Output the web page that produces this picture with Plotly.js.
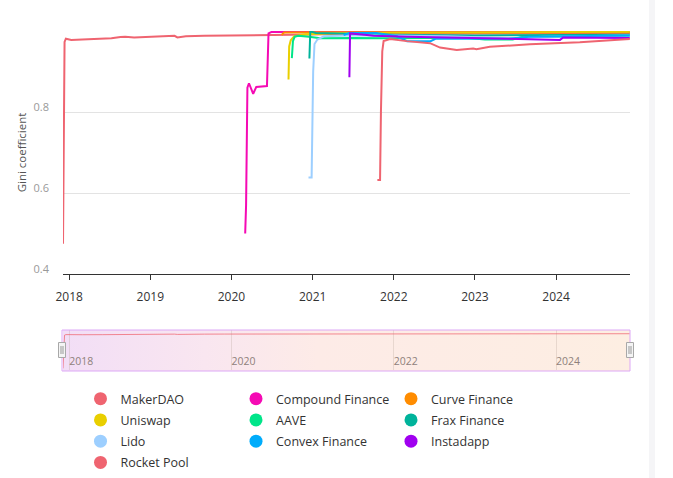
<!DOCTYPE html>
<html>
<head>
<meta charset="utf-8">
<script src="https://cdn.plot.ly/plotly-3.0.1.min.js"></script>
<style>html,body{margin:0;padding:0;background:#fff;}#chart{width:673px;height:478px;}</style>
</head>
<body>
<div id="chart"></div>
<script>
// ---- data ----
const makerDates = ['2017-12-04','2017-12-07','2017-12-11','2017-12-17','2018-01-10','2018-03-01','2018-06-01','2018-07-10','2018-08-20','2018-09-10','2018-10-20','2018-12-01','2019-01-20','2019-03-01','2019-04-20','2019-05-03','2019-06-10','2019-09-01','2019-12-01','2020-03-01','2020-06-01','2020-10-01','2021-03-01','2021-10-01','2022-06-01','2023-03-01','2024-01-01','2024-11-28'];
const makerVals  = [0.475,0.78,0.973,0.981,0.978,0.979,0.980,0.982,0.985,0.986,0.984,0.985,0.985,0.986,0.988,0.984,0.987,0.988,0.989,0.989,0.990,0.991,0.992,0.993,0.993,0.994,0.994,0.994];

const compoundDates = ['2020-03-03','2020-03-07','2020-03-13','2020-03-20','2020-04-08','2020-04-22','2020-06-09','2020-06-16','2020-07-01','2021-06-01','2022-06-01','2023-06-01','2024-11-28'];
const compoundVals  = [0.50,0.57,0.86,0.871,0.845,0.862,0.864,0.994,0.998,0.998,0.997,0.997,0.997];

const curveDates = ['2020-08-14','2020-08-25','2021-03-01','2022-03-01','2023-03-01','2024-03-01','2024-11-28'];
const curveVals  = [0.990,0.996,0.997,0.996,0.996,0.996,0.996];

const uniswapDates = ['2020-09-14','2020-09-17','2020-09-24','2020-10-10','2020-12-01','2021-06-01','2022-03-01','2023-03-01','2024-01-01','2024-11-28'];
const uniswapVals  = [0.88,0.962,0.977,0.987,0.992,0.995,0.996,0.997,0.997,0.998];

const aaveDates = ['2020-09-29','2020-10-04','2020-10-12','2020-10-28','2020-12-15','2021-02-05','2021-07-01','2021-12-01','2022-06-01','2022-12-01','2023-02-15','2023-06-20','2023-08-01','2024-03-01','2024-11-28'];
const aaveVals  = [0.933,0.975,0.986,0.988,0.986,0.982,0.983,0.982,0.983,0.983,0.979,0.979,0.985,0.987,0.988];

const fraxDates = ['2020-12-17','2020-12-21','2021-01-15','2021-06-01','2022-01-01','2023-01-01','2024-01-01','2024-11-28'];
const fraxVals  = [0.932,0.999,0.995,0.993,0.991,0.989,0.990,0.991];

const lidoDates = ['2020-12-13','2020-12-27','2021-01-03','2021-01-09','2021-01-22','2021-02-20','2021-06-01','2022-01-01','2022-09-01','2023-02-01','2023-07-01','2023-11-01','2024-06-01','2024-11-28'];
const lidoVals  = [0.638,0.638,0.90,0.968,0.979,0.987,0.989,0.989,0.987,0.984,0.982,0.986,0.988,0.989];

const convexDates = ['2021-05-20','2021-06-15','2021-10-15','2022-01-15','2022-03-01','2022-06-15','2022-07-10','2023-06-01','2023-09-01','2024-04-01','2024-11-28'];
const convexVals  = [0.990,0.995,0.995,0.987,0.975,0.975,0.981,0.981,0.986,0.988,0.989];

const instaDates = ['2021-06-15','2021-06-18','2021-09-02','2021-10-01','2022-03-02','2023-02-24','2023-10-12','2024-01-19','2024-02-02','2024-11-28'];
const instaVals  = [0.886,0.994,0.990,0.988,0.986,0.982,0.980,0.978,0.984,0.983];

const rocketDates = ['2021-10-19','2021-10-31','2021-11-04','2021-11-10','2021-11-16','2021-12-15','2022-02-28','2022-06-13','2022-07-28','2022-10-11','2022-12-24','2023-01-08','2023-03-09','2023-09-05','2024-04-17','2024-09-12','2024-11-28'];
const rocketVals  = [0.632,0.632,0.80,0.95,0.975,0.980,0.975,0.970,0.959,0.953,0.957,0.955,0.961,0.967,0.972,0.978,0.980];

const seriesNames  = ['MakerDAO','Compound Finance','Curve Finance','Uniswap','AAVE','Frax Finance','Lido','Convex Finance','Instadapp','Rocket Pool'];
const seriesColors = ['#ef6470','#f50ab4','#ff8c00','#e9cf00','#00e589','#00b39b','#9dcfff','#00acfb','#a000f0','#ef6470'];
const seriesDates  = [makerDates,compoundDates,curveDates,uniswapDates,aaveDates,fraxDates,lidoDates,convexDates,instaDates,rocketDates];
const seriesVals   = [makerVals,compoundVals,curveVals,uniswapVals,aaveVals,fraxVals,lidoVals,convexVals,instaVals,rocketVals];
const seriesLegend = ['legend','legend2','legend3','legend','legend2','legend3','legend','legend2','legend3','legend'];

const xRange = ['2017-12-04','2024-11-29'];
const FONT = 'Open Sans, Noto Sans, sans-serif';

// ---- traces ----
const traces = [];
seriesNames.forEach((name, i) => {
  traces.push({
    type: 'scatter', mode: 'lines', name: name,
    x: seriesDates[i], y: seriesVals[i],
    line: {color: seriesColors[i], width: 2},
    legendgroup: name, showlegend: false,
    xaxis: 'x', yaxis: 'y', hoverinfo: 'x+y+name'
  });
});
// legend entries (circle markers)
const legendOrder = ['MakerDAO','Uniswap','Lido','Rocket Pool','Compound Finance','AAVE','Convex Finance','Curve Finance','Frax Finance','Instadapp'];
legendOrder.forEach(name => {
  const i = seriesNames.indexOf(name);
  traces.push({
    type: 'scatter', mode: 'markers', name: name,
    x: [null], y: [null],
    marker: {color: seriesColors[i], size: 13},
    legendgroup: name, legend: seriesLegend[i], showlegend: true,
    xaxis: 'x', yaxis: 'y', hoverinfo: 'skip'
  });
});
// data-zoom preview line (first series)
traces.push({
  type: 'scatter', mode: 'lines', x: makerDates, y: makerVals,
  line: {color: 'rgba(239,100,112,0.75)', width: 1},
  showlegend: false, xaxis: 'x2', yaxis: 'y2', hoverinfo: 'skip'
});

// ---- gradient background for the zoom slider ----
const gradSvg = '<svg xmlns="http://www.w3.org/2000/svg" width="100" height="10" preserveAspectRatio="none">' +
  '<defs><linearGradient id="g" x1="0" y1="0" x2="1" y2="0">' +
  '<stop offset="0" stop-color="#f2def6"/><stop offset="0.25" stop-color="#f9e6f0"/>' +
  '<stop offset="0.45" stop-color="#fdebe7"/><stop offset="1" stop-color="#fdeee2"/>' +
  '</linearGradient></defs><rect width="100" height="10" fill="url(#g)"/></svg>';
const gradSrc = 'data:image/svg+xml;base64,' + btoa(gradSvg);

const H = 339; // plot area height in px (31..370)
const py = p => (370 - p) / H;      // pixel y -> paper y
const px = p => (p - 63) / 567;     // pixel x -> paper x

const legendCommon = {
  orientation: 'v', yanchor: 'top', xanchor: 'left',
  bgcolor: 'rgba(0,0,0,0)', borderwidth: 0, itemwidth: 30,
  font: {family: FONT, size: 12.5, color: '#333'},
  tracegroupgap: 2, itemclick: 'toggle'
};

const layout = {
  width: 673, height: 478,
  margin: {l: 63, r: 43, t: 31, b: 108, pad: 0, autoexpand: false},
  paper_bgcolor: '#ffffff', plot_bgcolor: 'rgba(0,0,0,0)',
  font: {family: FONT, color: '#333'},
  hovermode: 'closest',
  xaxis: {
    domain: [0, 1], anchor: 'y', type: 'date', range: xRange,
    tick0: '2018-01-01', dtick: 'M12', tickformat: '%Y',
    showgrid: false, zeroline: false,
    showline: true, linecolor: '#333', linewidth: 1,
    ticks: 'outside', ticklen: 5, tickcolor: '#333', tickwidth: 1,
    ticklabelstandoff: 7,
    tickfont: {family: FONT, size: 12, color: '#333'}
  },
  yaxis: {
    domain: [py(274), 1], anchor: 'x', range: [0.4, 1.0],
    tickvals: [0.4, 0.6, 0.8, 1.0], ticktext: ['0.4', '0.6', '0.8', ''],
    showgrid: true, gridcolor: '#e3e3e3', gridwidth: 1,
    zeroline: false, showline: false, ticks: '',
    ticklabelstandoff: 13, ticklabelshift: -5,
    tickfont: {family: FONT, size: 11, color: '#999'},
    title: {text: 'Gini coefficient', font: {family: FONT, size: 11.5, color: '#555'}, standoff: 4}
  },
  xaxis2: {
    domain: [0, 1], anchor: 'y2', type: 'date', range: xRange,
    tick0: '2018-01-01', dtick: 'M24', tickformat: '%Y',
    showgrid: true, gridcolor: 'rgba(170,150,140,0.25)', gridwidth: 1,
    zeroline: false, showline: false, ticks: '',
    ticklabelposition: 'inside right', ticklabelstandoff: -3,
    tickfont: {family: FONT, size: 10.5, color: '#8f817b'},
    fixedrange: true
  },
  yaxis2: {
    domain: [0, py(330)], anchor: 'x2', range: [0.45, 1.05],
    visible: false, fixedrange: true
  },
  images: [{
    source: gradSrc, xref: 'paper', yref: 'paper',
    x: 0, y: py(330), sizex: 1, sizey: py(330) - py(371),
    xanchor: 'left', yanchor: 'top', sizing: 'stretch', layer: 'below'
  }],
  shapes: [
    // slider frame
    {type: 'rect', xref: 'paper', yref: 'paper', x0: px(62), x1: px(630), y0: py(371), y1: py(330),
     line: {color: '#dda8f6', width: 1}, fillcolor: 'rgba(0,0,0,0)', layer: 'above'},
    // left handle
    {type: 'rect', xref: 'paper', yref: 'paper', x0: px(58.5), x1: px(65.5), y0: py(357.5), y1: py(342.5),
     line: {color: '#a8a8a8', width: 1}, fillcolor: '#f4f4f4', layer: 'above'},
    {type: 'line', xref: 'paper', yref: 'paper', x0: px(61), x1: px(61), y0: py(354), y1: py(346), line: {color: '#999', width: 1}},
    {type: 'line', xref: 'paper', yref: 'paper', x0: px(63), x1: px(63), y0: py(354), y1: py(346), line: {color: '#999', width: 1}},
    // right handle
    {type: 'rect', xref: 'paper', yref: 'paper', x0: px(626.5), x1: px(633.5), y0: py(357.5), y1: py(342.5),
     line: {color: '#a8a8a8', width: 1}, fillcolor: '#f4f4f4', layer: 'above'},
    {type: 'line', xref: 'paper', yref: 'paper', x0: px(629), x1: px(629), y0: py(354), y1: py(346), line: {color: '#999', width: 1}},
    {type: 'line', xref: 'paper', yref: 'paper', x0: px(631), x1: px(631), y0: py(354), y1: py(346), line: {color: '#999', width: 1}},
    // light strip at far right of page
    {type: 'rect', xref: 'paper', yref: 'paper', x0: px(649), x1: px(655), y0: py(478), y1: py(0),
     line: {width: 0}, fillcolor: '#f5f5f7', layer: 'below'}
  ],
  legend:  Object.assign({}, legendCommon, {x: px(80.5), y: py(384)}),
  legend2: Object.assign({}, legendCommon, {x: px(236), y: py(384)}),
  legend3: Object.assign({}, legendCommon, {x: px(391), y: py(384)})
};

Plotly.newPlot('chart', traces, layout, {displayModeBar: false, responsive: false});
</script>
</body>
</html>
